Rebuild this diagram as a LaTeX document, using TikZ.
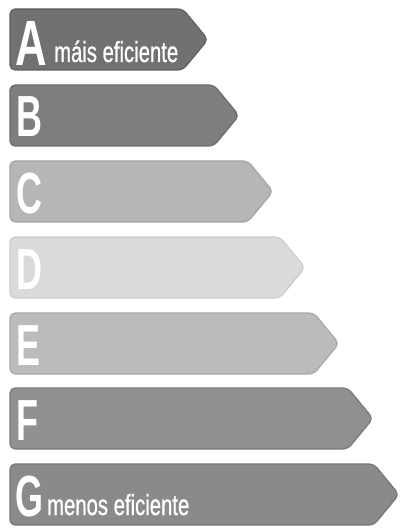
\documentclass[tikz,border=0pt]{standalone}
\usepackage{fontspec}
\setmainfont{Liberation Sans}
\newfontfamily\medfont[FakeBold=1]{Liberation Sans}
\usetikzlibrary{shapes.symbols}
\definecolor{cA}{HTML}{717171}
\definecolor{cB}{HTML}{7E7E7E}
\definecolor{cC}{HTML}{B6B6B6}
\definecolor{cD}{HTML}{DADADA}
\definecolor{cE}{HTML}{BBBBBB}
\definecolor{cF}{HTML}{909090}
\definecolor{cG}{HTML}{8A8A8A}
\begin{document}
\begin{tikzpicture}[x=1pt,y=1pt,
  bar/.style={signal, signal to=east, signal pointer angle=101, minimum height=61pt,
    inner sep=0pt, outer sep=0pt, anchor=north west, rounded corners=5pt,
    line width=1.2pt},
  grade/.style={anchor=base west, inner sep=0pt, text=white, xscale=0.62,
    font=\fontsize{58}{58}\selectfont\bfseries},
  label/.style={anchor=base west, inner sep=0pt, text=white, xscale=0.7,
    font=\fontsize{29}{29}\medfont}]
\useasboundingbox (0,0) rectangle (401,-529);
\node[bar, fill=cA, draw=cA!85!black, minimum width=198pt] (barA) at (10,-9) {};
\node[bar, fill=cB, draw=cB!85!black, minimum width=229pt] (barB) at (10,-85) {};
\node[bar, fill=cC, draw=cC!90!black, minimum width=263pt] (barC) at (10,-161) {};
\node[bar, fill=cD, draw=cD!93!black, minimum width=295pt] (barD) at (10,-237) {};
\node[bar, fill=cE, draw=cE!90!black, minimum width=329pt] (barE) at (10,-313) {};
\node[bar, fill=cF, draw=cF!85!black, minimum width=363pt] (barF) at (10,-388) {};
\node[bar, fill=cG, draw=cG!85!black, minimum width=389pt] (barG) at (10,-464) {};
\node[grade, xscale=1.1, font=\fontsize{64}{64}\selectfont\bfseries] (lA) at (15,-66) {A};
\node[label] (tA) at (54,-62) {máis eficiente};
\node[grade] (lB) at (16,-137) {B};
\node[grade] (lC) at (16,-213) {C};
\node[grade] (lD) at (16,-289) {D};
\node[grade] (lE) at (16,-365) {E};
\node[grade] (lF) at (16,-440) {F};
\node[grade] (lG) at (15,-516) {G};
\node[label] (tG) at (47,-515) {menos eficiente};
\end{tikzpicture}
\end{document}
